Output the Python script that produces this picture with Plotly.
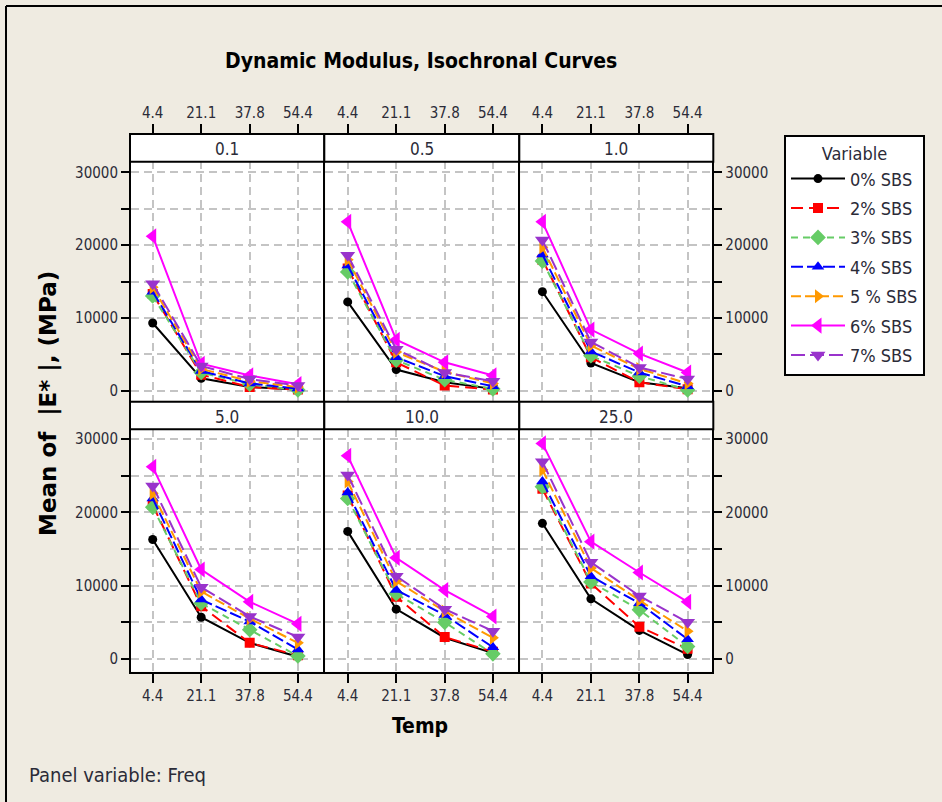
import plotly.graph_objects as go

# ---------------- data ----------------
temps = [4.4, 21.1, 37.8, 54.4]
temp_labels = ["4.4", "21.1", "37.8", "54.4"]
freqs = ["0.1", "0.5", "1.0", "5.0", "10.0", "25.0"]
series_names = ["0% SBS", "2% SBS", "3% SBS", "4% SBS", "5 % SBS", "6% SBS", "7% SBS"]

# values per frequency panel (0.1, 0.5, 1.0, 5.0, 10.0, 25.0), each at temps
sbs0 = [[9300, 1700, 500, 150], [12200, 2900, 1150, 250], [13600, 3800, 1150, 350],
        [16300, 5700, 2200, 300], [17400, 6800, 2900, 800], [18500, 8200, 3900, 600]]
sbs2 = [[13300, 2200, 500, 150], [16800, 3900, 700, 150], [18000, 4600, 1150, 200],
        [21000, 7200, 2200, 500], [22300, 8500, 3000, 1000], [23200, 10300, 4400, 1400]]
sbs3 = [[13000, 2500, 900, 100], [16300, 4200, 1500, 250], [17800, 4800, 2000, 100],
        [20700, 7600, 4000, 400], [21900, 8900, 5000, 700], [23500, 10500, 6700, 1700]]
sbs4 = [[13600, 2700, 1000, 300], [17200, 4600, 2000, 600], [18700, 5400, 2500, 600],
        [21900, 8100, 5100, 1300], [22700, 9400, 6000, 1600], [24200, 11300, 7600, 2700]]
sbs5 = [[14200, 3000, 1300, 500], [18000, 5300, 2600, 1000], [19700, 6200, 3000, 1000],
        [22600, 9200, 5500, 2200], [24200, 10600, 6500, 2900], [25800, 12400, 8000, 3800]]
sbs6 = [[21200, 3700, 2100, 900], [23200, 7000, 3900, 2100], [23200, 8400, 5100, 2500],
        [26200, 12200, 7800, 4800], [27700, 13800, 9400, 5800], [29400, 16000, 11800, 7800]]
sbs7 = [[14700, 3400, 1600, 700], [18600, 5700, 2500, 1300], [20700, 6700, 3200, 1600],
        [23600, 9800, 5800, 3000], [25100, 11300, 6800, 3800], [26900, 13200, 8600, 5000]]

y_ticks = [0, 5000, 10000, 15000, 20000, 25000, 30000]
y_ticklabels = ["0", "", "10000", "", "20000", "", "30000"]

all_series = [sbs0, sbs2, sbs3, sbs4, sbs5, sbs6, sbs7]

# ---------------- styles ----------------
colors = ["#000000", "#FF0000", "#66CC66", "#0000FF", "#FF9900", "#FF00FF", "#9933CC"]
symbols = ["circle", "square", "diamond", "triangle-up", "triangle-right", "triangle-left", "triangle-down"]
msizes = [9, 10, 12, 11, 12, 14, 13]
dashes = ["solid", "12px,6px", "7px,5px", "12px,4px", "10px,4px", "solid", "14px,5px"]

W, H = 942, 802
BG = "#EFEBE1"
FONT = "DejaVu Sans Condensed"
TXT = "#2B2B38"
LW = 2

# panel frame line centres (pixels)
col_edges = [(130, 324.3), (324.3, 519.3), (519.3, 713.3)]
row_edges = [(134, 401.7), (401.7, 672.7)]
strip_h = [27.7, 27.6]
zero_px = [390.7, 659.0]
top_px = [172.3, 439.0]
first_tick_px = [152.7, 347.7, 542.4]

def px2x(p):
    return p / W

def px2y(p):
    return 1 - p / H

fig = go.Figure()

layout = dict(
    width=W, height=H, margin=dict(l=0, r=0, t=0, b=0),
    paper_bgcolor=BG, plot_bgcolor="white",
    font=dict(family=FONT, color=TXT, size=15),
    showlegend=True,
)

shapes = []
annotations = []

spacing_px = 48.5
deg_per_px = (temps[1] - temps[0]) / spacing_px
for i in range(6):
    r, c = divmod(i, 3)
    k = i + 1
    xa = "xaxis" if k == 1 else f"xaxis{k}"
    ya = "yaxis" if k == 1 else f"yaxis{k}"
    xr = "x" if k == 1 else f"x{k}"
    yr = "y" if k == 1 else f"y{k}"
    ex0, ex1 = col_edges[c]
    ey0, ey1 = row_edges[r]
    # domain inside the frame lines (lines are drawn outside the domain)
    x0p, x1p = ex0 + LW / 2, ex1 - LW / 2
    y0p, y1p = ey0 + LW / 2, ey1 - LW / 2
    xmin = temps[0] - (first_tick_px[c] - x0p) * deg_per_px
    xmax = xmin + (x1p - x0p) * deg_per_px
    upp = 30000 / (zero_px[r] - top_px[r])
    ymin = -(y1p - zero_px[r]) * upp
    ymax = (zero_px[r] - y0p) * upp

    for s in range(7):
        fig.add_trace(go.Scatter(
            x=temps, y=all_series[s][i], xaxis=xr, yaxis=yr,
            mode="lines+markers", name=series_names[s],
            legendgroup=series_names[s], showlegend=(i == 0),
            line=dict(color=colors[s], width=2, dash=dashes[s]),
            marker=dict(symbol=symbols[s], size=msizes[s], color=colors[s]),
        ))

    layout[xa] = dict(
        domain=[px2x(x0p), px2x(x1p)], range=[xmin, xmax], anchor=yr,
        tickvals=temps, ticktext=temp_labels,
        side="top" if r == 0 else "bottom",
        ticks="outside", ticklen=9, tickwidth=2, tickcolor="black",
        showticklabels=True, tickfont=dict(size=15, color=TXT, family=FONT),
        showline=True, linecolor="black", linewidth=LW, mirror=True,
        showgrid=True, gridcolor="#C4C4C4", gridwidth=2, griddash="8px,5px",
        zeroline=False, fixedrange=True,
    )
    yside = "left" if c == 0 else "right"
    layout[ya] = dict(
        domain=[px2y(y1p), px2y(y0p)], range=[ymin, ymax], anchor=xr,
        tickvals=y_ticks, ticktext=y_ticklabels, side=yside,
        ticks="outside" if c != 1 else "", ticklen=8, tickwidth=2, tickcolor="black",
        showticklabels=(c != 1), tickfont=dict(size=15, color=TXT, family=FONT),
        showline=True, linecolor="black", linewidth=LW, mirror=True,
        showgrid=True, gridcolor="#C4C4C4", gridwidth=2, griddash="8px,5px",
        zeroline=False, fixedrange=True,
    )
    # strip header
    shapes.append(dict(type="rect", xref="paper", yref="paper",
                       x0=px2x(ex0), x1=px2x(ex1), y0=px2y(ey0 + strip_h[r]), y1=px2y(ey0),
                       fillcolor="white", line=dict(color="black", width=LW), layer="above"))
    annotations.append(dict(text=freqs[i], xref="paper", yref="paper",
                            x=px2x((ex0 + ex1) / 2), y=px2y(ey0 + strip_h[r] / 2 + 1),
                            showarrow=False, font=dict(size=17, color=TXT, family=FONT),
                            xanchor="center", yanchor="middle"))

# outer frame lines (left and top)
shapes.append(dict(type="line", xref="paper", yref="paper", x0=px2x(6), x1=px2x(6),
                   y0=0, y1=px2y(6), line=dict(color="black", width=2)))
shapes.append(dict(type="line", xref="paper", yref="paper", x0=px2x(6), x1=1,
                   y0=px2y(6), y1=px2y(6), line=dict(color="black", width=2)))

annotations += [
    dict(text="<b>Dynamic Modulus, Isochronal Curves</b>", xref="paper", yref="paper",
         x=px2x(421), y=px2y(61), showarrow=False, xanchor="center", yanchor="middle",
         font=dict(size=21, color="black", family=FONT)),
    dict(text="<b>Temp</b>", xref="paper", yref="paper",
         x=px2x(420), y=px2y(726), showarrow=False, xanchor="center", yanchor="middle",
         font=dict(size=21, color="black", family=FONT)),
    dict(text="<b>Mean of  |E* |, (MPa)</b>", xref="paper", yref="paper",
         x=px2x(48), y=px2y(404), showarrow=False, xanchor="center", yanchor="middle",
         textangle=-90, font=dict(size=23, color="black", family="DejaVu Sans")),
    dict(text="Panel variable: Freq", xref="paper", yref="paper",
         x=px2x(27), y=px2y(775), showarrow=False, xanchor="left", yanchor="middle",
         font=dict(size=20, color=TXT, family=FONT)),
]

layout["shapes"] = shapes
layout["annotations"] = annotations
layout["legend"] = dict(
    x=px2x(784), y=px2y(135), xanchor="left", yanchor="top",
    bgcolor="white", bordercolor="black", borderwidth=2,
    font=dict(size=18, color=TXT, family=FONT),
    title=dict(text="Variable", side="top center", font=dict(size=18, color=TXT, family=FONT)),
    traceorder="grouped", tracegroupgap=3, itemwidth=54,
)

fig.update_layout(**layout)
fig.write_html("out.html")
